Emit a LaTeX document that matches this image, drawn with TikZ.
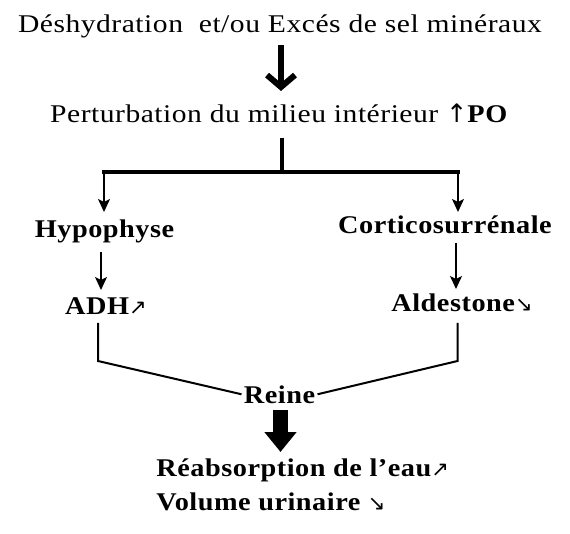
\documentclass[tikz,border=0pt]{standalone}
\usepackage{fontspec}
\setmainfont{Liberation Serif}[FakeStretch=1.16, LetterSpace=2, BoldFeatures={FakeStretch=1.11}]
\newfontfamily\symfont{DejaVu Sans}
\newcommand{\hausse}{{\symfont\mdseries\fontsize{21}{24}\selectfont\char"2197}}
\newcommand{\baisse}{{\symfont\mdseries\fontsize{21}{24}\selectfont\char"2198}}
\usetikzlibrary{arrows.meta,positioning,calc}

\begin{document}
\begin{tikzpicture}[x=1pt, y=-1pt, thick,
        txt/.style={inner sep=2pt, anchor=base, font=\fontsize{25.5}{30}\selectfont},
        bold/.style={txt, font=\fontsize{25.5}{30}\selectfont\bfseries},
        thinarrow/.style={line width=1.6pt, -{Stealth[length=13pt,width=12pt,inset=3pt]}},
        openarrow/.style={line width=6pt, -{Straight Barb[length=12pt,width=28pt]}},
        blockarrow/.style={line width=15pt, -{Triangle[length=20pt,width=31pt]}},
        trunk/.style={line width=4pt},
        link/.style={line width=2pt}]

        \useasboundingbox (0,0) rectangle (570,534);

        % texts
        \node [txt] (cause) at (280,33) {Déshydration\ \ et/ou Excés de sel minéraux};
        \node [txt] (pert) at (279,123) {Perturbation du milieu intérieur {\symfont\char"2191}\textbf{PO}};
        \node [bold] (hypo) at (104.5,238) {Hypophyse};
        \node [bold] (corti) at (445,234) {Corticosurrénale};
        \node [bold] (adh) at (106,315) {ADH\hausse};
        \node [bold] (aldo) at (462,312) {Aldestone\baisse};
        \node [bold] (reine) at (279.5,403) {Reine};
        \node [bold, anchor=base west] (reab) at (154,476) {Réabsorption de l'eau\hausse};
        \node [bold, anchor=base west] (vol) at (154,510) {Volume urinaire \baisse};

        % branch points
        \coordinate (split) at (282,172);
        \coordinate (bl) at (104,172);
        \coordinate (br) at (458,172);
        \coordinate (ll) at (98,361);
        \coordinate (rr) at (457.5,361);

        % arrows
        \draw [openarrow] (281,45) -- (281,91);
        \draw [trunk] (split |- 0,138) -- (split);
        \draw [trunk] ($(bl)+(-2,0)$) -- ($(br)+(2,0)$);
        \draw [thinarrow] (bl) -- (bl |- 0,212);
        \draw [thinarrow] (br) -- (br |- 0,212);
        \draw [thinarrow, shorten <=6pt] (hypo.south -| 101,0) -- (101,290);
        \draw [thinarrow, shorten <=6pt] (corti.south -| 456,0) -- (456,289);
        \draw [link] (ll |- 0,323) -- (ll) -- (reine.west);
        \draw [link] (rr |- 0,323) -- (rr) -- (reine.east);
        \draw [blockarrow] (280.5,410) -- (280.5,452);
\end{tikzpicture}
\end{document}
